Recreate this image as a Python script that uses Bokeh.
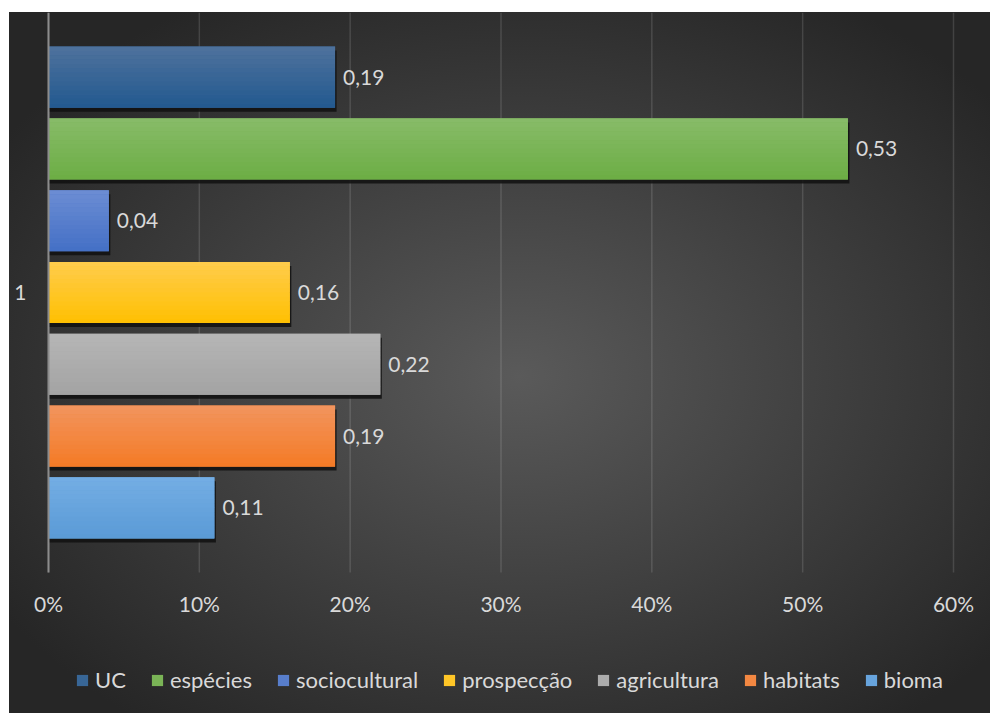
import numpy as np
from bokeh.plotting import figure
from bokeh.models import (ColumnDataSource, Range1d, FixedTicker, Legend, LegendItem,
                          NumeralTickFormatter)
from bokeh.embed import file_html
from bokeh.resources import INLINE
from bokeh.core.properties import value

# ---------------- data ----------------
category_labels = ["1"]
series = ["UC", "espécies", "sociocultural", "prospecção", "agricultura", "habitats", "bioma"]
values = [0.19, 0.53, 0.04, 0.16, 0.22, 0.19, 0.11]
x_ticks = [0.0, 0.1, 0.2, 0.3, 0.4, 0.5, 0.6]

# ---------------- styles ----------------
top_colors = ["#4F729D", "#88BB69", "#6C8DD3", "#FFCC4E", "#B6B6B6", "#F2955F", "#74AEE4"]
bottom_colors = ["#22598F", "#6CAE44", "#4470C6", "#FFC000", "#A3A3A3", "#F47A25", "#5A9AD6"]
TEXT = "#d9d9d9"
FONT = "Lato"


def hex2rgb(h):
    h = h.lstrip("#")
    return np.array([int(h[i:i + 2], 16) for i in (0, 2, 4)], dtype=float)


def mix(c1, c2, t):
    c = hex2rgb(c1) * (1 - t) + hex2rgb(c2) * t
    return "#%02x%02x%02x" % tuple(int(round(v)) for v in c)


n = len(series)
ys = [(n - 1) / 2 - i for i in range(n)]      # series positions inside the single category
bar_h = 0.85
half = 3.9                                      # plot area spans -half .. half
PLOT_H_PX, PLOT_W_PX = 560.0, 905.0
FIG_W, FIG_H = 981, 701
LEFT_PX, RIGHT_PX = 39.0, 37.0                  # room left/right of the plot area
x_max_val = x_ticks[-1]
unit_px = PLOT_H_PX / (2 * half)
x_per_px = x_max_val / PLOT_W_PX
y_bottom = half - FIG_H / unit_px               # extra room below for tick labels + legend
x_left = -LEFT_PX * x_per_px
x_right = x_max_val + RIGHT_PX * x_per_px

p = figure(frame_width=FIG_W, frame_height=FIG_H,
           x_range=Range1d(x_left, x_right), y_range=Range1d(y_bottom, half),
           output_backend="svg", toolbar_location=None,
           min_border_left=0, min_border_right=0, min_border_top=0, min_border_bottom=0,
           background_fill_color=None, border_fill_color=None, outline_line_color=None)
p.margin = (12, 0, 0, 9)
p.styles = {"background": "radial-gradient(ellipse farthest-corner at 52% 52%, #5a5a5a 0%, #262626 85%)"}

# grid (value gridlines limited to the plot area)
p.xgrid.grid_line_color = None
p.ygrid.grid_line_color = None
p.segment(x0=x_ticks, y0=-half, x1=x_ticks, y1=half,
          line_color="#ffffff", line_alpha=0.13, line_width=1.5)

# x axis, pinned to the bottom of the plot area
p.xaxis.fixed_location = -half
p.xaxis.ticker = FixedTicker(ticks=x_ticks)
p.xaxis.formatter = NumeralTickFormatter(format="0%")
p.xaxis.axis_line_color = None
p.xaxis.major_tick_line_color = None
p.xaxis.minor_tick_line_color = None
p.xaxis.major_tick_out = 0
p.xaxis.major_label_standoff = 18
p.xaxis.major_label_text_font = FONT
p.xaxis.major_label_text_font_size = "21px"
p.xaxis.major_label_text_color = TEXT

# y axis (category axis), pinned at 0 %
p.yaxis.fixed_location = 0
p.yaxis.ticker = FixedTicker(ticks=[0])
p.yaxis.bounds = (-half, half)
p.yaxis.major_label_overrides = {0: category_labels[0]}
p.yaxis.axis_line_color = "#8c8c8c"
p.yaxis.axis_line_width = 2
p.yaxis.major_tick_line_color = None
p.yaxis.minor_tick_line_color = None
p.yaxis.major_tick_out = 0
p.yaxis.major_label_standoff = 22
p.yaxis.major_label_text_font = FONT
p.yaxis.major_label_text_font_size = "21px"
p.yaxis.major_label_text_color = TEXT

# shadows
px_y = 1.0 / unit_px
shadow_src = ColumnDataSource(dict(y=[y - 4 * px_y for y in ys],
                                   right=[v + 1.5 * x_per_px for v in values]))
p.hbar(y="y", left=0, right="right", height=bar_h, source=shadow_src,
       fill_color="#111111", fill_alpha=0.85, line_color=None)

# base bars (mid colour; used by the legend)
mid_colors = [mix(t, b, 0.5) for t, b in zip(top_colors, bottom_colors)]
base_src = ColumnDataSource(dict(y=ys, right=values, color=mid_colors, name=series))
base_r = p.hbar(y="y", left=0, right="right", height=bar_h, source=base_src,
                fill_color="color", line_color=None)

# vertical gradient slices
N = 14
for j in range(N):
    t = (j + 0.5) / N
    yc = [y + bar_h / 2 - (j + 0.5) * bar_h / N for y in ys]
    cols = [mix(tc, bc, t) for tc, bc in zip(top_colors, bottom_colors)]
    src = ColumnDataSource(dict(y=yc, right=values, color=cols))
    p.hbar(y="y", left=0, right="right", height=bar_h / N * 1.03, source=src,
           fill_color="color", line_color=None)

# value labels
labels = [f"{v:.2f}".replace(".", ",") for v in values]
p.text(x=values, y=ys, text=labels, x_offset=8, text_align="left", text_baseline="middle",
       text_font=value(FONT), text_font_size="21px", text_color=TEXT)

# legend
legend = Legend(items=[LegendItem(label=s, renderers=[base_r], index=i) for i, s in enumerate(series)],
                orientation="horizontal", location=(66, 20),
                glyph_width=14, glyph_height=14, label_standoff=6, spacing=24,
                padding=0, margin=0,
                label_text_font=FONT, label_text_font_size="22px", label_text_color=TEXT,
                background_fill_alpha=0, border_line_alpha=0)
p.add_layout(legend)

open("out.html", "w").write(file_html(p, INLINE))
